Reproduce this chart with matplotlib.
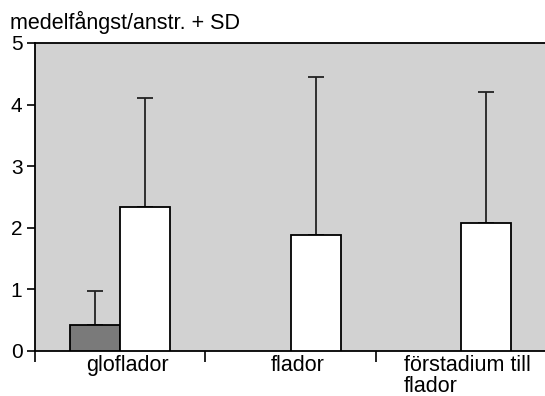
import matplotlib
matplotlib.use("Agg")
import matplotlib.pyplot as plt
import numpy as np

plt.rcParams['font.family'] = ['Liberation Sans', 'DejaVu Sans']

categories = ["gloflador", "flador", "förstadium till\nflador"]
dark_values = [0.43, 0.0, 0.0]
dark_sd = [0.54, 0.0, 0.0]
white_values = [2.34, 1.88, 2.07]
white_sd = [1.76, 2.56, 2.13]
y_ticks = [0, 1, 2, 3, 4, 5]
title = "medelfångst/anstr. + SD"

fig = plt.figure(figsize=(5.45, 3.96), dpi=100)
ax = fig.add_axes([35/545, 45/396, 511/545, 308/396])
ax.set_facecolor('#d2d2d2')

x = np.arange(len(categories)) + 0.5
w = 0.295
for i in range(len(categories)):
    if dark_values[i] > 0:
        ax.bar(x[i] - w/2, dark_values[i], w, color='#7a7a7a', edgecolor='black', linewidth=1.3, zorder=3)
        ax.errorbar(x[i] - w/2, dark_values[i], yerr=[[0], [dark_sd[i]]], fmt='none',
                    ecolor='#222222', elinewidth=1.3, capsize=6, capthick=1.3, zorder=2)
    ax.bar(x[i] + w/2, white_values[i], w, color='white', edgecolor='black', linewidth=1.3, zorder=3)
    ax.errorbar(x[i] + w/2, white_values[i], yerr=[[0], [white_sd[i]]], fmt='none',
                ecolor='#222222', elinewidth=1.3, capsize=6, capthick=1.3, zorder=2)

ax.set_xlim(0, 2.995)
ax.set_ylim(0, 5)
ax.set_yticks(y_ticks)
ax.set_yticklabels([str(t) for t in y_ticks], fontsize=15)
ax.set_xticks([0, 1, 2, 3])
ax.set_xticklabels([])
# label anchors sit slightly right of group centres, as in the original
ax.set_xticks(x + 0.04, minor=True)
ax.set_xticklabels(categories, minor=True, fontsize=15.5, linespacing=1.0)
for lab in ax.get_xticklabels(minor=True):
    lab.set_multialignment('left')
ax.tick_params(axis='x', which='minor', length=0, pad=3)
ax.tick_params(axis='x', which='major', length=8, width=1.2, direction='out')
ax.tick_params(axis='y', length=6, width=1.2, direction='out', pad=3)
ax.spines['right'].set_visible(False)
for s in ['left', 'bottom', 'top']:
    ax.spines[s].set_linewidth(1.3)

fig.text(10/545, 1 - 22/396, title, fontsize=15.5, va='center', ha='left')

fig.savefig("out.png", dpi=100)
